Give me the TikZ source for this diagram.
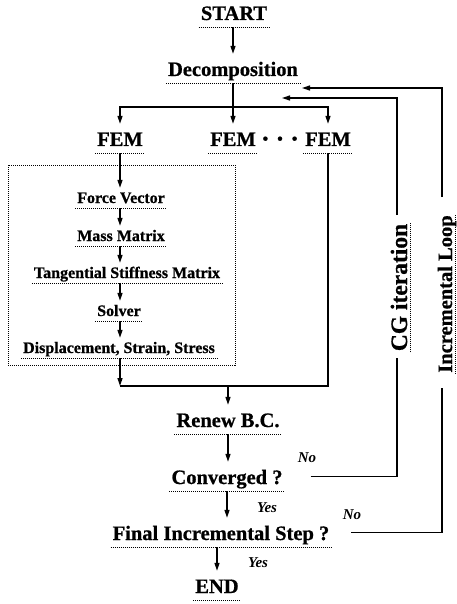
\documentclass[tikz,border=0pt]{standalone}
\usepackage{fontspec}
\setmainfont{Liberation Serif}[BoldFeatures={FakeBold=0.8}]
\usetikzlibrary{arrows.meta}
\begin{document}
\begin{tikzpicture}[x=1pt,y=-1pt,
  dotline/.style={line width=1pt, dash pattern=on 1pt off 1pt},
  conn/.style={line width=1.3pt},
  arr/.style={conn, -{Triangle[length=8pt,width=5pt]}},
  ul/.style={append after command={(\tikzlastnode.south west) edge[dotline] (\tikzlastnode.south east)}},
  mainlbl/.style={font=\fontsize{20.5}{22}\selectfont\bfseries, anchor=base,
    text height=20pt, text depth=5pt, inner ysep=2pt, inner xsep=2pt, ul},
  sublbl/.style={font=\fontsize{16}{18}\selectfont\bfseries, anchor=base,
    text height=13pt, text depth=3pt, inner ysep=2pt, inner xsep=2pt, ul},
  sidelbl/.style={anchor=base, rotate=90, text height=16pt, text depth=2pt,
    inner ysep=1pt, inner xsep=1pt, ul},
  ansl/.style={font=\fontsize{15}{17}\selectfont\bfseries\itshape, inner sep=0pt}]
\useasboundingbox (0,0) rectangle (457,604);

% nodes
\node[mainlbl] (start) at (234,20) {START};
\node[mainlbl] (decomp) at (233,76) {Decomposition};
\node[mainlbl] (fem1) at (120,146) {FEM};
\node[mainlbl] (fem2) at (233,146) {FEM};
\node[mainlbl] (fem3) at (328,146) {FEM};
\node[font=\fontsize{16}{18}\selectfont\bfseries, anchor=base, inner sep=0pt] (dots) at (280,144) {•\hspace{9pt}•\hspace{9pt}•};

\draw[dotline] (8,165) rectangle (235,365);
\node[sublbl] (force) at (121,203) {Force Vector};
\node[sublbl] (mass) at (121,241) {Mass Matrix};
\node[sublbl] (tang) at (127,278) {Tangential Stiffness Matrix};
\node[sublbl] (solver) at (119,316) {Solver};
\node[sublbl] (disp) at (119,353) {Displacement, Strain, Stress};

\node[mainlbl] (renew) at (228,427) {Renew B.C.};
\node[mainlbl] (conv) at (227,484) {Converged ?};
\node[mainlbl] (final) at (221,540) {Final Incremental Step ?};
\node[mainlbl] (end) at (217,593) {END};

\node[sidelbl, font=\fontsize{23.5}{25}\selectfont\bfseries] (cg) at (407,287.5) {CG iteration};
\node[sidelbl, font=\fontsize{20.5}{22}\selectfont\bfseries] (inc) at (452,294) {Incremental Loop};

\node[ansl] (no1) at (307,458) {No};
\node[ansl] (yes1) at (267,508) {Yes};
\node[ansl] (no2) at (352,515) {No};
\node[ansl] (yes2) at (258,563) {Yes};

% main flow
\draw[arr] (start.south -| decomp.south) -- (decomp.north);
\coordinate (bus) at (233,107);
\draw[arr] (decomp.south) -- (fem2.north);
\draw[arr] (bus) -| (fem1.north);
\draw[arr] (bus) -| (fem3.north);

\draw[arr] (fem1.south) -- (fem1.south |- force.north);
\draw[arr] (force.south -| fem1.south) -- (fem1.south |- mass.north);
\draw[arr] (mass.south -| fem1.south) -- (fem1.south |- tang.north);
\draw[arr] (tang.south -| fem1.south) -- (fem1.south |- solver.north);
\draw[arr] (solver.south -| fem1.south) -- (fem1.south |- disp.north);

\coordinate (join) at (229,386);
\draw[arr] (disp.south -| fem1.south) -- (fem1.south |- join);
\draw[conn] (fem1.south |- join) -- (fem3.south |- join) -- (fem3.south);
\draw[arr] (renew.north |- join) -- (renew.north);
\draw[arr] (renew.south) -- (renew.south |- conv.north);
\draw[arr] (conv.south) -- (conv.south |- final.north);
\draw[arr] (end.north |- final.south) -- (end.north);

% CG iteration loop
\coordinate (cgA) at ([xshift=26pt]conv.east);
\coordinate (cgB) at (397,358);
\coordinate (cgT) at (397,215);
\coordinate (cgTip) at (282,98);
\draw[conn] (cgA) -| (cgB);
\draw[arr] (cgT) |- (cgTip);

% Incremental loop
\coordinate (inA) at ([xshift=20pt]final.east);
\coordinate (inB) at (442,388);
\coordinate (inT) at (442,197);
\coordinate (inTip) at (302,88);
\draw[conn] (inA) -| (inB);
\draw[arr] (inT) |- (inTip);
\end{tikzpicture}
\end{document}
